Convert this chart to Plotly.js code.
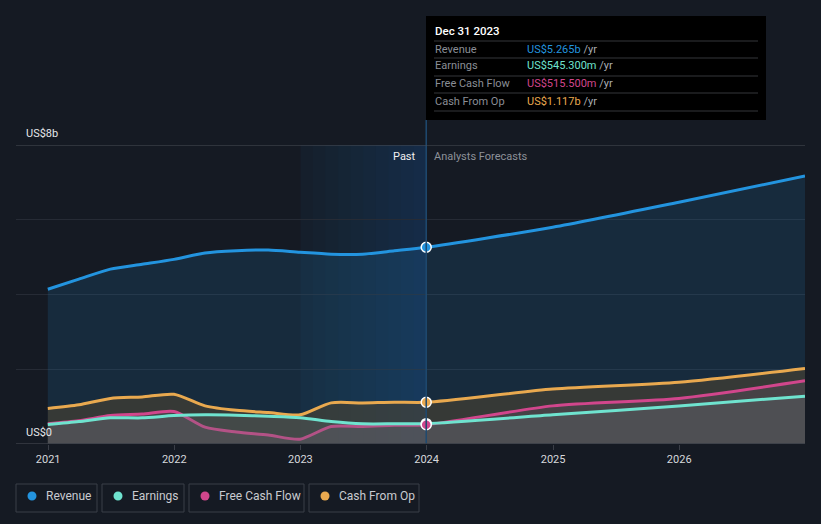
<!DOCTYPE html>
<html>
<head>
<meta charset="utf-8">
<script src="https://cdn.plot.ly/plotly-3.0.1.min.js"></script>
<style>
  html, body { margin: 0; padding: 0; background: #151a23; }
  #chart { width: 821px; height: 524px; }
</style>
</head>
<body>
<div id="chart"></div>
<script>
// ---- data (US$ billions) ----
const pastDates = ['2020-12-31','2021-03-31','2021-06-30','2021-09-30','2021-12-31','2022-03-31','2022-06-30','2022-09-30','2022-12-31','2023-03-31','2023-06-30','2023-09-30','2023-12-31'];
const forecastDates = ['2024-12-31','2025-12-31','2026-12-31'];

const revenuePast = [4.14, 4.41, 4.68, 4.81, 4.94, 5.11, 5.17, 5.19, 5.13, 5.08, 5.08, 5.17, 5.265];
const revenueForecast = [5.80, 6.47, 7.17];

const earningsPast = [0.52, 0.60, 0.70, 0.70, 0.76, 0.78, 0.77, 0.74, 0.70, 0.60, 0.54, 0.54, 0.545];
const earningsForecast = [0.78, 1.02, 1.28];

const fcfPast = [0.54, 0.62, 0.76, 0.80, 0.87, 0.45, 0.32, 0.24, 0.13, 0.47, 0.47, 0.50, 0.5155];
const fcfForecast = [1.02, 1.22, 1.69];

const cfoPast = [0.95, 1.05, 1.22, 1.26, 1.33, 1.02, 0.90, 0.84, 0.78, 1.10, 1.10, 1.12, 1.117];
const cfoForecast = [1.47, 1.65, 2.02];

const seriesNames = ['Revenue', 'Earnings', 'Free Cash Flow', 'Cash From Op'];
const tooltipDate = 'Dec 31 2023';
const tooltipValues = ['US$5.265b', 'US$545.300m', 'US$515.500m', 'US$1.117b'];
const yLabels = ['US$8b', 'US$0'];
const yLabelValues = [8, 0];

// ---- styling ----
const colors = ['#2394df', '#6fe3cf', '#d1468c', '#e9a94f'];
const W = 821, H = 524;
const L = 16, R = 805, T = 145, B = 444;
const px2x = p => (p - L) / (R - L);
const py2y = p => (B - p) / (B - T);

const allDates = pastDates.concat(forecastDates);
const lastPast = pastDates[pastDates.length - 1];

function series(name, past, fut, color, fill) {
  return {
    type: 'scatter', mode: 'lines', name: name,
    x: allDates, y: past.concat(fut),
    line: { color: color, width: 3, shape: 'spline', smoothing: 0.7 },
    fill: 'tozeroy', fillcolor: fill,
    hoverinfo: 'skip', showlegend: false
  };
}

const traces = [
  series('Revenue', revenuePast, revenueForecast, colors[0], 'rgba(35,148,223,0.14)'),
  series('Cash From Op', cfoPast, cfoForecast, colors[3], 'rgba(80,70,50,0.55)'),
  series('Free Cash Flow', fcfPast, fcfForecast, colors[2], 'rgba(110,90,110,0.28)'),
  series('Earnings', earningsPast, earningsForecast, colors[1], 'rgba(100,115,120,0.28)'),
  {
    type: 'scatter', mode: 'markers',
    x: [lastPast, lastPast, lastPast, lastPast],
    y: [revenuePast[12], cfoPast[12], earningsPast[12], fcfPast[12]],
    marker: { size: 10, color: [colors[0], colors[3], colors[1], colors[2]], line: { color: '#ffffff', width: 1.5 } },
    hoverinfo: 'skip', showlegend: false
  }
];

const shapes = [];
const annotations = [];

// past band with gradient (2023 -> end of 2023)
const bandStart = new Date('2023-01-01').getTime();
const bandEnd = new Date(lastPast).getTime();
shapes.push({
  type: 'rect', xref: 'x', yref: 'paper', layer: 'below',
  x0: '2023-01-01', x1: lastPast, y0: 0, y1: 1,
  fillcolor: 'rgba(30,100,170,0.07)', line: { width: 0 }
});
const steps = 10;
for (let i = 1; i < steps; i++) {
  const t = bandStart + (bandEnd - bandStart) * i / steps;
  shapes.push({
    type: 'rect', xref: 'x', yref: 'paper', layer: 'below',
    x0: new Date(t).toISOString().slice(0, 10), x1: lastPast, y0: 0, y1: 1,
    fillcolor: 'rgba(30,100,170,0.028)', line: { width: 0 }
  });
}
// vertical marker line
shapes.push({ type: 'line', xref: 'x', yref: 'paper', x0: lastPast, x1: lastPast, y0: 0, y1: py2y(120),
  line: { color: '#1f4a70', width: 1.5 } });
// top gridline + baseline
shapes.push({ type: 'line', xref: 'paper', yref: 'y', x0: 0, x1: 1, y0: 8, y1: 8, line: { color: '#4a4e57', width: 1 } });
shapes.push({ type: 'line', xref: 'paper', yref: 'y', x0: 0, x1: 1, y0: 0, y1: 0, line: { color: '#3a3e47', width: 1.5 } });

// y labels
yLabels.forEach((t, i) => {
  annotations.push({ xref: 'paper', yref: 'y', x: px2x(24), y: yLabelValues[i], yshift: 12,
    xanchor: 'left', yanchor: 'middle', text: t, showarrow: false,
    font: { color: '#e6e7ea', size: 11 } });
});

// Past / Analysts Forecasts
annotations.push({ xref: 'x', yref: 'paper', x: lastPast, y: py2y(156), xshift: -8, xanchor: 'right', yanchor: 'middle',
  text: 'Past', showarrow: false, font: { color: '#f0f0f0', size: 11 } });
annotations.push({ xref: 'x', yref: 'paper', x: lastPast, y: py2y(156), xshift: 6, xanchor: 'left', yanchor: 'middle',
  text: 'Analysts Forecasts', showarrow: false, font: { color: '#8d9199', size: 11 } });

// tooltip box
shapes.push({ type: 'rect', xref: 'paper', yref: 'paper', x0: px2x(426), x1: px2x(766), y0: py2y(120), y1: py2y(16),
  fillcolor: '#000000', line: { width: 0 } });
[41, 58, 76, 93, 111].forEach(py => {
  shapes.push({ type: 'line', xref: 'paper', yref: 'paper', x0: px2x(434), x1: px2x(758), y0: py2y(py), y1: py2y(py),
    line: { color: '#34363b', width: 1 } });
});
annotations.push({ xref: 'paper', yref: 'paper', x: px2x(433), y: py2y(31), xanchor: 'left', yanchor: 'middle',
  text: tooltipDate, showarrow: false, font: { color: '#ffffff', size: 11.5, weight: 500 } });
const rowY = [49, 66, 84, 101];
seriesNames.forEach((n, i) => {
  annotations.push({ xref: 'paper', yref: 'paper', x: px2x(433), y: py2y(rowY[i]), xanchor: 'left', yanchor: 'middle',
    text: n, showarrow: false, font: { color: '#8a8e96', size: 11 } });
  annotations.push({ xref: 'paper', yref: 'paper', x: px2x(525), y: py2y(rowY[i]), xanchor: 'left', yanchor: 'middle',
    text: '<span style="color:' + colors[i] + '">' + tooltipValues[i] + '</span> /yr', showarrow: false,
    font: { color: '#a9acb2', size: 11 } });
});

// legend boxes
const legendBoxes = [[16, 97], [102, 184], [189, 304], [309, 419]];
seriesNames.forEach((n, i) => {
  const [a, b] = legendBoxes[i];
  shapes.push({ type: 'rect', xref: 'paper', yref: 'paper', x0: px2x(a), x1: px2x(b), y0: py2y(512), y1: py2y(484),
    fillcolor: 'rgba(0,0,0,0)', line: { color: '#3a3e48', width: 1 } });
  shapes.push({ type: 'circle', xref: 'paper', yref: 'paper', xsizemode: 'pixel', ysizemode: 'pixel',
    xanchor: px2x(a + 16), yanchor: py2y(496), x0: -4.5, x1: 4.5, y0: -4.5, y1: 4.5,
    fillcolor: colors[i], line: { width: 0 } });
  annotations.push({ xref: 'paper', yref: 'paper', x: px2x(a + 28), y: py2y(496), xanchor: 'left', yanchor: 'middle',
    text: n, showarrow: false, font: { color: '#c9cbd0', size: 12 } });
});

const layout = {
  width: W, height: H,
  paper_bgcolor: '#151a23', plot_bgcolor: '#151a23',
  font: { family: 'Roboto, "Open Sans", sans-serif', color: '#d0d2d6' },
  margin: { l: L, r: W - R, t: T, b: H - B, pad: 0 },
  showlegend: false,
  hovermode: false,
  xaxis: {
    type: 'date', range: ['2020-09-30', '2026-12-31'],
    tick0: '2021-01-01', dtick: 'M12', tickformat: '%Y',
    showgrid: false, zeroline: false, showline: false,
    ticks: 'outside', ticklen: 5, tickwidth: 1, tickcolor: '#3a3e47',
    tickfont: { color: '#d6d8dc', size: 11 }, fixedrange: true
  },
  yaxis: {
    range: [0, 8], dtick: 2, showticklabels: false,
    showgrid: true, gridcolor: '#262b35', gridwidth: 1,
    zeroline: false, showline: false, fixedrange: true
  },
  shapes: shapes,
  annotations: annotations
};

Plotly.newPlot('chart', traces, layout, { staticPlot: true, displayModeBar: false });
</script>
</body>
</html>
